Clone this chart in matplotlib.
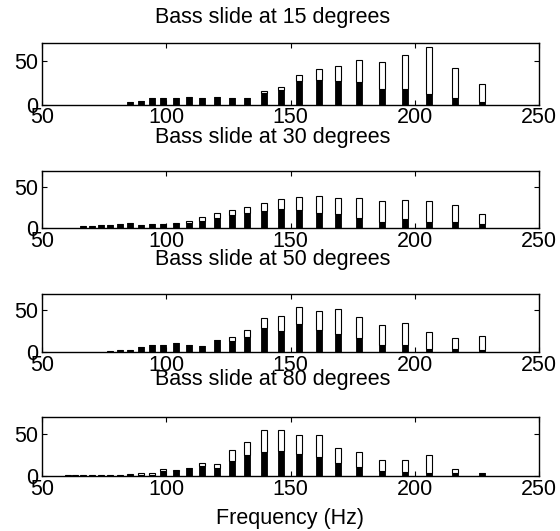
import matplotlib
matplotlib.use("Agg")
import matplotlib.pyplot as plt

# Harmonic amplitude per partial: black = fundamental-side component, white = remainder on top
freq_15 = [85.4, 89.7, 94.1, 98.8, 103.8, 109.0, 114.5, 120.3, 126.3, 132.5, 139.2,
           146.2, 153.6, 161.4, 169.3, 177.7, 186.7, 196.1, 205.7, 216.1, 226.9]
black_15 = [3.0, 4.2, 7.2, 8.0, 7.2, 8.7, 8.0, 8.7, 8.0, 7.6, 13.6,
            17.0, 26.9, 28.0, 26.9, 25.8, 17.8, 17.8, 11.7, 7.6, 3.0]
total_15 = [3.0, 4.2, 7.2, 8.0, 7.2, 8.7, 8.0, 8.7, 8.0, 7.6, 15.5,
            19.7, 33.7, 40.5, 43.6, 50.4, 48.5, 56.9, 65.6, 42.4, 23.5]

freq_30 = [66.6, 70.0, 73.7, 77.4, 81.4, 85.4, 89.7, 94.1, 98.8, 103.8, 109.0, 114.5, 120.3,
           126.3, 132.5, 139.2, 146.2, 153.6, 161.4, 169.3, 177.7, 186.7, 196.1, 205.7,
           216.1, 226.9]
black_30 = [3.0, 3.4, 4.6, 4.2, 5.0, 6.3, 3.8, 5.0, 5.5, 5.0, 6.3, 9.5, 12.3,
            16.8, 18.8, 20.8, 23.4, 22.0, 18.8, 17.2, 13.1, 7.5, 11.5, 7.5, 7.5, 5.5]
total_30 = [3.0, 3.4, 4.6, 4.2, 5.0, 6.3, 3.8, 5.0, 6.0, 6.3, 9.5, 14.3, 18.4,
            22.8, 25.7, 30.5, 35.4, 38.2, 39.8, 37.4, 37.4, 33.3, 34.5, 33.3, 28.5, 17.2]

freq_50 = [77.4, 81.4, 85.4, 89.7, 94.1, 98.8, 103.8, 109.0, 114.5, 120.3, 126.3, 132.5,
           139.2, 146.2, 153.6, 161.4, 169.3, 177.7, 186.7, 196.1, 205.7, 216.1, 226.9]
black_50 = [1.2, 2.4, 2.4, 5.6, 8.0, 8.0, 11.2, 8.0, 6.8, 14.0, 13.2, 18.0,
            28.3, 25.1, 33.5, 25.9, 21.9, 16.4, 8.8, 8.8, 3.2, 3.2, 2.4]
total_50 = [1.2, 2.4, 2.4, 5.6, 8.0, 8.0, 11.2, 8.0, 6.8, 14.0, 18.0, 26.7,
            40.3, 42.7, 53.9, 49.1, 51.9, 41.5, 31.9, 34.3, 23.5, 17.2, 19.6]

freq_80 = [60.4, 63.4, 66.6, 70.0, 73.7, 77.4, 81.4, 85.4, 89.7, 94.1, 98.8, 103.8, 109.0,
           114.5, 120.3, 126.3, 132.5, 139.2, 146.2, 153.6, 161.4, 169.3, 177.7, 186.7,
           196.1, 205.7, 216.1, 226.9]
black_80 = [0.6, 1.0, 1.2, 0.8, 1.0, 0.6, 0.6, 1.6, 1.2, 1.6, 6.3, 5.9, 9.0,
            12.2, 9.8, 17.3, 24.8, 28.3, 29.5, 25.5, 22.0, 15.3, 10.2, 5.5,
            5.1, 3.9, 3.9, 3.5]
total_80 = [0.6, 1.0, 1.2, 0.8, 1.0, 0.6, 0.6, 2.0, 3.0, 4.0, 8.3, 7.5, 9.0,
            14.9, 14.1, 30.3, 40.1, 53.8, 53.8, 47.9, 48.7, 32.6, 28.3, 18.9,
            18.9, 24.8, 8.3, 3.5]

titles = ["Bass slide at 15 degrees", "Bass slide at 30 degrees",
          "Bass slide at 50 degrees", "Bass slide at 80 degrees"]
panels = [(freq_15, black_15, total_15), (freq_30, black_30, total_30),
          (freq_50, black_50, total_50), (freq_80, black_80, total_80)]
x_ticks = [50, 100, 150, 200, 250]
y_ticks = [0, 50]

W, H = 560, 531
FS = 15.5
plt.rcParams["font.family"] = ["Liberation Sans", "DejaVu Sans"]

fig = plt.figure(figsize=(W / 100, H / 100), dpi=100)

# axes boxes in pixels: (top, bottom)
boxes = [(43.3, 104.7), (170.7, 228.5), (293.5, 352.0), (416.7, 476.0)]
title_base = [22.5, 143.5, 264.5, 385.0]
left_px, right_px = 42.0, 539.0

for (top, bot), (fr, blk, tot), ttl, tb in zip(boxes, panels, titles, title_base):
    ax = fig.add_axes([left_px / W, 1 - bot / H, (right_px - left_px) / W, (bot - top) / H])
    upper = [t - b for t, b in zip(tot, blk)]
    ax.bar(fr, blk, width=2.4, color="black", edgecolor="black", linewidth=0.6)
    ax.bar(fr, upper, width=2.4, bottom=blk, color="white", edgecolor="black", linewidth=0.8)
    ax.set_xlim(50, 250)
    ax.set_ylim(0, 70)
    ax.set_xticks(x_ticks)
    ax.set_yticks(y_ticks)
    ax.tick_params(direction="in", length=3.6, width=0.8, top=True, right=True,
                   labelsize=FS)
    ax.tick_params(axis="x", pad=2)
    ax.tick_params(axis="y", pad=3)
    for s in ax.spines.values():
        s.set_linewidth(1.0)
    fig.text(273 / W, 1 - tb / H, ttl, ha="center", va="baseline", fontsize=FS)

fig.text(290.5 / W, 1 - 524 / H, "Frequency (Hz)", ha="center", va="baseline", fontsize=FS)

fig.savefig("out.png", dpi=100)
